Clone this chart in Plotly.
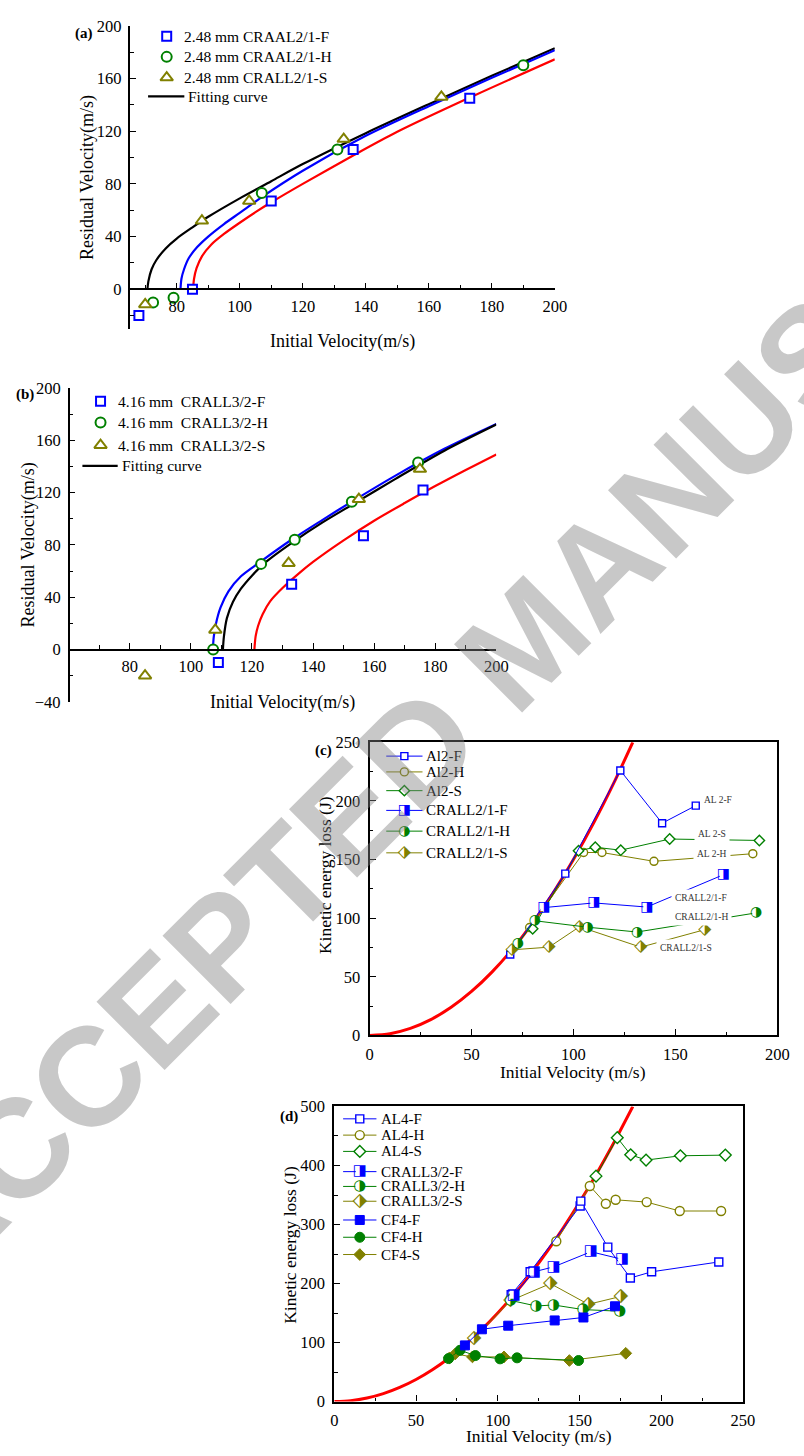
import plotly.graph_objects as go

W, H = 804, 1456
BLUE = "#0000FF"; GREEN = "#008000"; OLIVE = "#808000"; RED = "#FF0000"; BLACK = "#000000"
SERIF = "Liberation Serif"
SYM = "DejaVu Sans"

# ---------------- panel (a) data ----------------
a_F_x = [68, 85, 110, 136, 173]
a_F_y = [-20, 0, 67, 106, 145]
a_H_x = [72.5, 79, 107, 131, 190]
a_H_y = [-10, -6.5, 73, 106, 170]
a_S_x = [70, 88, 103, 133, 164]
a_S_y = [-11.5, 52, 67, 114, 146]
a_fit_black_x = [70.7, 71.0, 72, 73.5, 76.5, 80, 85, 90, 100, 110, 120, 140, 160, 180, 200]
a_fit_black_y = [0, 6, 15, 22, 31, 38.5, 47, 55, 69, 82, 95, 118.5, 140.5, 162, 183]
a_fit_blue_x = [81.2, 81.5, 82.3, 83.8, 86.5, 90, 95, 100, 107, 120, 140, 160, 180, 200]
a_fit_blue_y = [0, 8, 15, 23.5, 32, 40, 49.5, 58, 70, 90, 116.5, 139, 160.5, 181.5]
a_fit_red_x = [85.2, 85.5, 86.3, 88, 91, 95, 100, 105, 110, 120, 136, 150, 173, 200]
a_fit_red_y = [0, 8, 16, 25, 34, 42, 50.5, 58.5, 66, 80, 101.5, 119.5, 145.5, 174.5]
a_names = ["2.48 mm CRAAL2/1-F", "2.48 mm CRAAL2/1-H", "2.48 mm CRALL2/1-S"]

# ---------------- panel (b) data ----------------
b_F_x = [109, 133, 156.5, 176]
b_F_y = [-10, 50, 87, 122]
b_H_x = [107.3, 123, 134, 152.7, 174.4]
b_H_y = [0, 65.5, 84, 113, 143]
b_S_x = [85, 108, 132, 155, 175]
b_S_y = [-20, 15, 66, 115, 138]
b_fit_blue_x = [107.2, 107.5, 108.2, 109.7, 112.3, 116.4, 122.4, 133.3, 143, 152.3, 167, 183, 200]
b_fit_blue_y = [0, 9.6, 19.6, 32, 44.5, 56, 66.5, 84.5, 99, 112.5, 133, 153.5, 172.5]
b_fit_black_x = [110.5, 110.8, 111.8, 113.8, 116.4, 120, 124.6, 133.3, 143, 152.3, 167, 183, 200]
b_fit_black_y = [0, 9.5, 24, 36.5, 46.5, 56.5, 67, 82, 97, 110, 130.5, 152, 172]
b_fit_red_x = [120.8, 121.2, 122, 123.5, 126, 130, 135, 140, 150, 160, 170, 180, 190, 200]
b_fit_red_y = [0, 10, 18, 27, 37, 47, 57.5, 67, 83.5, 98.5, 112, 125, 137.3, 149.2]
b_names = ["4.16 mm&nbsp;&nbsp;CRALL3/2-F", "4.16 mm&nbsp;&nbsp;CRALL3/2-H", "4.16 mm&nbsp;&nbsp;CRALL3/2-S"]

# ---------------- panel (c) data ----------------
c_ke_x = [0, 10, 20, 30, 40, 50, 60, 70, 80, 90, 100, 110, 120, 129.1]
c_ke_y = [0, 1.5, 6, 13.5, 24, 37.5, 54, 73.5, 96, 121.5, 150, 181.5, 216, 250]
c_Al2F_x = [69, 96, 123, 143.5, 160]
c_Al2F_y = [69, 138, 226, 181, 196]
c_Al2H_x = [78.5, 105, 114, 139.5, 188]
c_Al2H_y = [92, 156, 156, 148.5, 155]
c_Al2S_x = [80, 102.5, 110.7, 123.2, 147.2, 191.2]
c_Al2S_y = [91, 157.5, 160.5, 158, 167.5, 166.3]
c_CRF_x = [85.5, 110, 136, 173.5]
c_CRF_y = [109, 113, 109.5, 137]
c_CRH_x = [72.8, 81.1, 107, 131.2, 189.6]
c_CRH_y = [78.5, 97.8, 92.3, 88.2, 104.5]
c_CRS_x = [69.9, 88, 103, 133, 164.4]
c_CRS_y = [73, 75.3, 92.7, 75.3, 90.2]
c_names = ["Al2-F", "Al2-H", "Al2-S", "CRALL2/1-F", "CRALL2/1-H", "CRALL2/1-S"]
c_lab_text = ["AL 2-F", "AL 2-S", "AL 2-H", "CRALL2/1-F", "CRALL2/1-H", "CRALL2/1-S"]
c_lab_x = [171, 168, 168, 162.7, 162.7, 155]
c_lab_y = [200.8, 171.6, 154.5, 117.4, 100.6, 74.4]

# ---------------- panel (d) data ----------------
d_ke_x = [0, 10, 20, 30, 40, 50, 60, 70, 80, 90, 100, 110, 120, 130, 140, 150, 160, 170, 182.6]
d_ke_y = [0, 1.5, 6, 13.5, 24, 37.5, 54, 73.5, 96, 121.5, 150, 181.5, 216, 253.5, 294, 337.5, 384, 433.5, 500]
d_AL4F_x = [108.2, 119.8, 150.4, 150.8, 167.3, 181.1, 194.1, 235.2]
d_AL4F_y = [181, 220, 331.3, 339.6, 261.7, 209.4, 219.9, 236.6]
d_AL4H_x = [135.8, 156.3, 166.1, 172.1, 191.1, 211.3, 236.6]
d_AL4H_y = [271.7, 365.3, 335.2, 341.9, 338, 322.9, 322.9]
d_AL4S_x = [160.1, 173.1, 181.3, 190.7, 211.7, 239.2]
d_AL4S_y = [382, 447.1, 418.2, 409.2, 416.5, 417.6]
d_CRF_x = [109.8, 122.2, 134.2, 157, 176.1]
d_CRF_y = [181, 219.9, 228.3, 253.9, 241.1]
d_CRH_x = [107.8, 123.4, 134.2, 152.2, 174.7]
d_CRH_y = [171.5, 162, 163.7, 155.9, 153.1]
d_CRS_x = [85.5, 107.8, 132.2, 155.4, 175.3]
d_CRS_y = [107.5, 171, 199.9, 164.8, 178.2]
d_CFF_x = [79.9, 90.3, 106.4, 134.8, 152.4, 171.7]
d_CFF_y = [95.2, 122.5, 128.6, 137.5, 142.5, 161.5]
d_CFH_x = [69.9, 76.9, 86.3, 101.4, 111.8, 149.4]
d_CFH_y = [72.9, 86.9, 78, 72.4, 74.1, 69.6]
d_CFS_x = [70.5, 73.9, 84.5, 103.8, 143.8, 178.3]
d_CFS_y = [74.1, 80.7, 75.7, 75.7, 69.6, 81.8]
d_names = ["AL4-F", "AL4-H", "AL4-S", "CRALL3/2-F", "CRALL3/2-H", "CRALL3/2-S",
           "CF4-F", "CF4-H", "CF4-S"]

fig = go.Figure()

def px_x(p):
    return p / W

def px_y(p):
    return 1 - p / H

HALF = {"square": "\u25E8", "circle": "\u25D1", "diamond": "\u2B17"}

def pts(x, y, ax, shape, color, size, lw, style="open", line=True, lwidth=1.0,
        gsize=12, name=None):
    xa, ya = ax
    mode = "lines+markers" if line else "markers"
    if style == "half":
        mode += "+text"
        fig.add_trace(go.Scatter(
            x=x, y=y, xaxis=xa, yaxis=ya, mode=mode, name=name, showlegend=False,
            line=dict(color=color, width=lwidth),
            marker=dict(symbol=shape, size=size, color="white", line=dict(width=0)),
            text=[HALF[shape]] * len(x), textposition="middle center",
            textfont=dict(family=SYM, size=gsize, color=color), cliponaxis=False))
    else:
        fill = color if style == "filled" else "white"
        fig.add_trace(go.Scatter(
            x=x, y=y, xaxis=xa, yaxis=ya, mode=mode, name=name, showlegend=False,
            line=dict(color=color, width=lwidth),
            marker=dict(symbol=shape, size=size, color=fill, line=dict(color=color, width=lw)),
            cliponaxis=False))

def curve(x, y, ax, color, width):
    fig.add_trace(go.Scatter(x=x, y=y, xaxis=ax[0], yaxis=ax[1], mode="lines",
                             line=dict(color=color, width=width, shape="spline", smoothing=0.8),
                             showlegend=False, hoverinfo="skip"))

A = ("x", "y"); B = ("x2", "y2"); C = ("x3", "y3"); D = ("x4", "y4"); P = ("x5", "y5")

# ---- (a)
curve(a_fit_black_x, a_fit_black_y, A, BLACK, 2.2)
curve(a_fit_blue_x, a_fit_blue_y, A, BLUE, 2.2)
curve(a_fit_red_x, a_fit_red_y, A, RED, 2.2)
pts(a_F_x, a_F_y, A, "square", BLUE, 9, 2, line=False, name=a_names[0])
pts(a_H_x, a_H_y, A, "circle", GREEN, 10, 2, line=False, name=a_names[1])
pts(a_S_x, a_S_y, A, "triangle-up", OLIVE, 11, 2, line=False, name=a_names[2])

# ---- (b)
curve(b_fit_red_x, b_fit_red_y, B, RED, 2.2)
curve(b_fit_blue_x, b_fit_blue_y, B, BLUE, 2.2)
curve(b_fit_black_x, b_fit_black_y, B, BLACK, 2.2)
pts(b_F_x, b_F_y, B, "square", BLUE, 9, 2, line=False, name=b_names[0])
pts(b_H_x, b_H_y, B, "circle", GREEN, 10, 2, line=False, name=b_names[1])
pts(b_S_x, b_S_y, B, "triangle-up", OLIVE, 11, 2, line=False, name=b_names[2])

# ---- (c)
curve(c_ke_x, c_ke_y, C, RED, 3)
pts(c_Al2H_x, c_Al2H_y, C, "circle", OLIVE, 8, 1.4, name=c_names[1])
pts(c_Al2S_x, c_Al2S_y, C, "diamond", GREEN, 8, 1.4, name=c_names[2])
pts(c_Al2F_x, c_Al2F_y, C, "square", BLUE, 7, 1.4, name=c_names[0])
pts(c_CRS_x, c_CRS_y, C, "diamond", OLIVE, 8, 0, style="half", gsize=17, name=c_names[5])
pts(c_CRH_x, c_CRH_y, C, "circle", GREEN, 8, 0, style="half", gsize=14, name=c_names[4])
pts(c_CRF_x, c_CRF_y, C, "square", BLUE, 7, 0, style="half", gsize=14, name=c_names[3])

# ---- (d)
curve(d_ke_x, d_ke_y, D, RED, 3)
pts(d_AL4H_x, d_AL4H_y, D, "circle", OLIVE, 9, 1.4, name=d_names[1])
pts(d_AL4S_x, d_AL4S_y, D, "diamond", GREEN, 9, 1.4, name=d_names[2])
pts(d_AL4F_x, d_AL4F_y, D, "square", BLUE, 8, 1.4, name=d_names[0])
pts(d_CRS_x, d_CRS_y, D, "diamond", OLIVE, 9, 0, style="half", gsize=19, name=d_names[5])
pts(d_CRH_x, d_CRH_y, D, "circle", GREEN, 9, 0, style="half", gsize=15, name=d_names[4])
pts(d_CRF_x, d_CRF_y, D, "square", BLUE, 8, 0, style="half", gsize=15, name=d_names[3])
pts(d_CFS_x, d_CFS_y, D, "diamond", OLIVE, 9, 1, style="filled", name=d_names[8])
pts(d_CFH_x, d_CFH_y, D, "circle", GREEN, 10, 1, style="filled", name=d_names[7])
pts(d_CFF_x, d_CFF_y, D, "square", BLUE, 9, 1, style="filled", name=d_names[6])

annots = []

# labels inside (c)
for t, lx, ly in zip(c_lab_text, c_lab_x, c_lab_y):
    annots.append(dict(x=lx, y=ly, xref="x3", yref="y3", text=t, showarrow=False,
                       font=dict(family=SERIF, size=9.5, color="#333333"),
                       bgcolor="white", borderpad=3))

# ---------------- legends (pixel overlay axis) ----------------
def leg_text(xp, yp, t, size):
    annots.append(dict(x=xp, y=yp, xref="x5", yref="y5", text=t, showarrow=False,
                       xanchor="left", yanchor="middle",
                       font=dict(family=SERIF, size=size, color="black")))

def leg_line(x0, x1, yy, color, width):
    fig.add_trace(go.Scatter(x=[x0, x1], y=[yy, yy], xaxis="x5", yaxis="y5", mode="lines",
                             line=dict(color=color, width=width), showlegend=False,
                             hoverinfo="skip"))

# (a) legend
a_leg_rows = [27.5, 48.5, 69.5]
for (shape, col, sz), yy, nm in zip([("square", BLUE, 9), ("circle", GREEN, 10), ("triangle-up", OLIVE, 11)],
                                    a_leg_rows, a_names):
    pts([166], [yy], P, shape, col, sz, 2, line=False)
    leg_text(182, yy, nm, 15.5)
leg_line(147, 184, 88.5, BLACK, 2.2)
leg_text(186, 88.5, "Fitting curve", 15.5)

# (b) legend
b_leg_rows = [397.5, 419, 442]
for (shape, col, sz), yy, nm in zip([("square", BLUE, 9), ("circle", GREEN, 10), ("triangle-up", OLIVE, 11)],
                                    b_leg_rows, b_names):
    pts([98.5], [yy], P, shape, col, sz, 2, line=False)
    leg_text(114, yy, nm, 15.5)
leg_line(80, 116, 463, BLACK, 2.2)
leg_text(118, 463, "Fitting curve", 15.5)

# (c) legend
c_leg_rows = [757, 773, 792, 812, 833, 855]
c_leg_sty = [("square", BLUE, 7, "open", 14), ("circle", OLIVE, 8, "open", 14),
             ("diamond", GREEN, 8, "open", 17), ("square", BLUE, 7, "half", 14),
             ("circle", GREEN, 8, "half", 14), ("diamond", OLIVE, 8, "half", 17)]
for (shape, col, sz, st, gs), yy, nm in zip(c_leg_sty, c_leg_rows, c_names):
    leg_line(390, 427, yy, col, 1)
    pts([408.5], [yy], P, shape, col, sz, 1.4, style=st, gsize=gs, line=False)
    leg_text(429, yy, nm, 15)

# (d) legend
d_leg_rows = [1124.5, 1141, 1157.5, 1178, 1193, 1208, 1227, 1244.5, 1262]
d_leg_sty = [("square", BLUE, 8, "open", 15), ("circle", OLIVE, 9, "open", 15),
             ("diamond", GREEN, 9, "open", 19), ("square", BLUE, 8, "half", 15),
             ("circle", GREEN, 9, "half", 15), ("diamond", OLIVE, 9, "half", 19),
             ("square", BLUE, 9, "filled", 15), ("circle", GREEN, 10, "filled", 15),
             ("diamond", OLIVE, 9, "filled", 19)]
for (shape, col, sz, st, gs), yy, nm in zip(d_leg_sty, d_leg_rows, d_names):
    leg_line(346, 380, yy, col, 1)
    pts([363], [yy], P, shape, col, sz, 1.4 if st == "open" else 1, style=st, gsize=gs, line=False)
    leg_text(383, yy, nm, 15)

# axis titles & panel labels
def ttl(xp, yp, t, ang=0, size=17.5, bold=False):
    annots.append(dict(x=xp, y=yp, xref="x5", yref="y5", text=(f"<b>{t}</b>" if bold else t),
                       showarrow=False, textangle=ang, xanchor="center", yanchor="middle",
                       font=dict(family=SERIF, size=size, color="black")))

ttl(345, 337, "Initial Velocity(m/s)", size=18)
ttl(85, 171, "Residual Velocity(m/s)", -90, size=18)
ttl(284, 703, "Initial Velocity(m/s)", size=18)
ttl(25, 543, "Residual Velocity(m/s)", -90, size=18)
ttl(581, 1077, "Initial Velocity (m/s)")
ttl(327, 877, "Kinetic energy loss (J)", -90)
ttl(546, 1446, "Initial Velocity (m/s)")
ttl(291, 1252, "Kinetic energy loss (J)", -90)
ttl(82, 25, "(a)", size=15, bold=True)
ttl(21, 391, "(b)", size=15, bold=True)
ttl(326, 751, "(c)", size=15, bold=True)
ttl(291, 1122, "(d)", size=15, bold=True)

# watermark
annots.append(dict(x=532, y=640, xref="x5", yref="y5", text="ACCEPTED MANUSCRIPT",
                   showarrow=False, textangle=-45, xanchor="center", yanchor="middle",
                   font=dict(family="Liberation Sans", size=140, color="rgba(128,128,128,0.43)",
                             weight=700)))

TF = dict(family=SERIF, size=16.5, color="black")

def axis_common(**kw):
    d = dict(showgrid=False, zeroline=False, showline=True, linecolor="black",
             ticks="inside", tickcolor="black", tickfont=TF, fixedrange=True)
    d.update(kw)
    return d

def minor(vals):
    return dict(tickvals=vals, ticklen=3.5, tickwidth=1.1, ticks="inside", tickcolor="black")

layout = dict(
    width=W, height=H, margin=dict(l=0, r=0, t=0, b=0),
    paper_bgcolor="white", plot_bgcolor="rgba(0,0,0,0)", showlegend=False,
    annotations=annots,
    xaxis=axis_common(domain=[px_x(128), px_x(562)], range=[65, 200], anchor="free",
                      position=px_y(284), linewidth=1.5, ticklen=6, tickwidth=1.2,
                      tickvals=list(range(80, 201, 20)), ticklabelstandoff=2,
                      minor=minor(list(range(70, 200, 20)))),
    yaxis=axis_common(domain=[px_y(324), px_y(17)], range=[-30, 200], anchor="free",
                      position=px_x(128), linewidth=1.5, ticklen=6, tickwidth=1.2,
                      tickvals=list(range(0, 201, 40)), ticklabelstandoff=4,
                      minor=minor(list(range(-20, 200, 40)))),
    xaxis2=axis_common(domain=[px_x(66), px_x(502.3)], range=[60, 200], anchor="free",
                       position=px_y(649), linewidth=1.5, ticklen=6, tickwidth=1.2,
                       tickvals=list(range(80, 201, 20)), ticklabelstandoff=2,
                       minor=minor(list(range(70, 200, 20)))),
    yaxis2=axis_common(domain=[px_y(702), px_y(384)], range=[-40, 200], anchor="free",
                       position=px_x(66), linewidth=1.5, ticklen=6, tickwidth=1.2,
                       tickvals=list(range(-40, 201, 40)), ticklabelstandoff=4,
                       minor=minor(list(range(-20, 200, 40)))),
    xaxis3=axis_common(domain=[px_x(373), px_x(789)], range=[0, 200], anchor="y3", mirror=True,
                       linewidth=2.2, ticklen=6, tickwidth=1.3, tickvals=list(range(0, 201, 50)),
                       ticklabelstandoff=3, minor=minor([25, 75, 125, 175])),
    yaxis3=axis_common(domain=[px_y(1040), px_y(743)], range=[0, 250], anchor="x3", mirror=True,
                       linewidth=2.2, ticklen=6, tickwidth=1.3, tickvals=list(range(0, 251, 50)),
                       ticklabelstandoff=4, minor=minor([25, 75, 125, 175, 225])),
    xaxis4=axis_common(domain=[px_x(337), px_x(754)], range=[0, 250], anchor="y4", mirror=True,
                       linewidth=2.2, ticklen=6, tickwidth=1.3, tickvals=list(range(0, 251, 50)),
                       ticklabelstandoff=3, minor=minor([25, 75, 125, 175, 225])),
    yaxis4=axis_common(domain=[px_y(1411), px_y(1112)], range=[0, 500], anchor="x4", mirror=True,
                       linewidth=2.2, ticklen=6, tickwidth=1.3, tickvals=list(range(0, 501, 100)),
                       ticklabelstandoff=4, minor=minor([50, 150, 250, 350, 450])),
    xaxis5=dict(domain=[0, 1], range=[0, W], visible=False, anchor="y5", fixedrange=True),
    yaxis5=dict(domain=[0, 1], range=[H, 0], visible=False, anchor="x5", fixedrange=True),
)
fig.update_layout(**layout)
fig.write_html("out.html", config={"displayModeBar": False},
               post_script="document.body.style.margin='0px';")
